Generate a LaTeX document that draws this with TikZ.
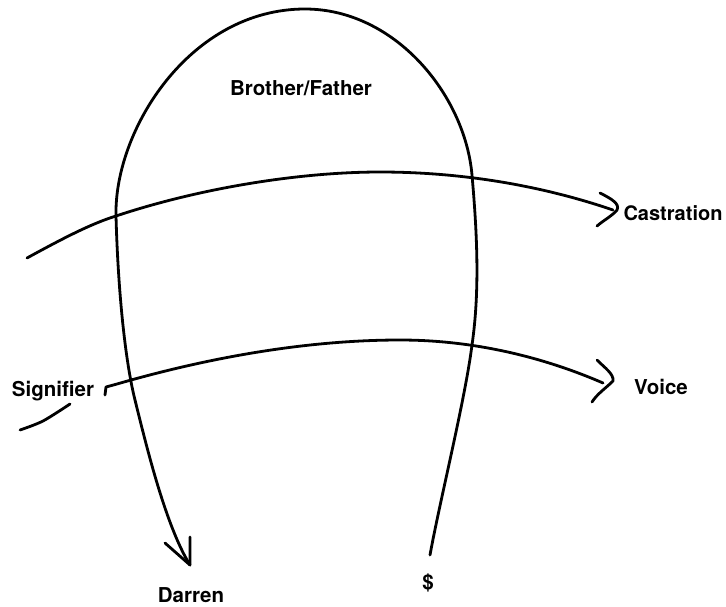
\documentclass[tikz,border=0pt]{standalone}
\usepackage{fontspec}
\setmainfont{TeX Gyre Heros}
\begin{document}
\begin{tikzpicture}[x=1pt,y=-1pt,
  ink/.style={line width=2.8pt,line cap=round,line join=round},
  lbl/.style={font=\fontsize{20.5}{24}\selectfont\bfseries,inner sep=0pt}]
\useasboundingbox (0,0) rectangle (726,606);
% labels
\node[lbl] (bf) at (301,88) {Brother/Father};
\node[lbl,font=\fontsize{20}{24}\selectfont\bfseries] (cas) at (673,213) {Castration};
\node[lbl] (voice) at (661,387) {Voice};
\node[lbl] (sig) at (53,391) {Signifier};
\node[lbl] (dar) at (191,595) {Darren};
\node[lbl] (S) at (428,583) {\$};
% key points
\coordinate (sEnd) at (430,555);
\coordinate (top) at (305,9);
\coordinate (dtip) at (190,565);
\coordinate (c1tip) at (617,210);
\coordinate (c2tip) at (613,381);
% big loop
\draw[ink] (sEnd) .. controls (440,500) and (465,400) .. (472,345)
  .. controls (480,290) and (477,232) .. (472,175)
  .. controls (465,95) and (395,9) .. (top)
  .. controls (190,9) and (114,130) .. (116,216)
  .. controls (118,290) and (125,360) .. (135,400)
  .. controls (145,440) and (165,525) .. (dtip);
\draw[ink] (165,543) -- (dtip) -- (190,537);
% upper arc
\draw[ink] (27,258) .. controls (60,240) and (90,224) .. (116,216)
  .. controls (200,188) and (300,172) .. (380,172)
  .. controls (460,172) and (540,185) .. (613,210);
\draw[ink] (600,193) .. controls (612,199) and (620,204) .. (c1tip) .. controls (612,216) and (604,220) .. (597,226);
% lower arc
\draw[ink] (105,395) -- (106,387) -- (117,384)
  .. controls (200,360) and (300,340) .. (400,340)
  .. controls (480,340) and (550,360) .. (603,383);
\draw[ink] (597,360) .. controls (605,368) and (614,374) .. (c2tip) .. controls (606,388) and (597,394) .. (592,402);
% signifier tail
\draw[ink] plot[smooth] coordinates {(20,430) (43,421) (70,404)};
\end{tikzpicture}
\end{document}
